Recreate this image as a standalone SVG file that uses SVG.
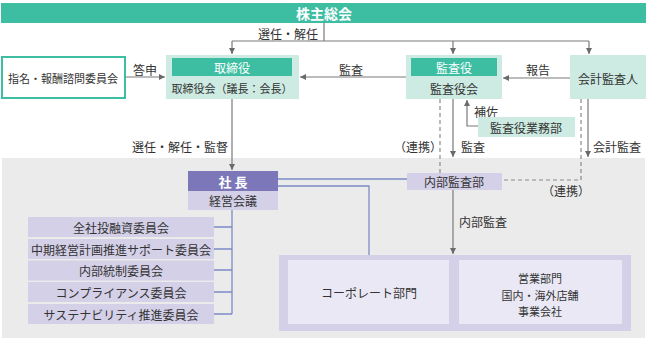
<svg xmlns="http://www.w3.org/2000/svg" width="647" height="341" viewBox="0 0 647 341">
<style>
text{font-family:"Noto Sans CJK JP","Noto Sans",sans-serif;font-size:12px;fill:#333;text-anchor:middle;dominant-baseline:central}
.w{fill:#fff;font-weight:bold}
.teal{fill:#3dbea3}
.lteal{fill:#cdebe2}
.pur{fill:#7c77b9}
.lpur{fill:#d3d0e8}
.inner{fill:#e9e8f4}
.gl{stroke:#7a7a7a;stroke-width:1.2;fill:none}
.dl{stroke:#8a8a8a;stroke-width:1.2;fill:none;stroke-dasharray:4 3}
.bl{stroke:#7d8bc6;stroke-width:1.3;fill:none}
.sm{font-size:11px}
</style>
<defs>
<marker id="ah" viewBox="0 0 10 10" refX="10" refY="5" markerWidth="6" markerHeight="6" orient="auto" markerUnits="userSpaceOnUse">
<path d="M0,0 L10,5 L0,10 z" fill="#6a6a6a"/>
</marker>
</defs>
<rect x="2" y="158" width="643" height="180" fill="#ebebeb"/>

<g id="shareholders">
<rect x="1" y="3" width="645" height="20" class="teal"/>
<text x="324" y="13" class="w" style="font-size:14px">株主総会</text>
</g>

<g id="connectors">
<path class="gl" d="M324,23 V41"/>
<path class="gl" d="M232,41 H589"/>
<path class="gl" d="M232,41 V54" marker-end="url(#ah)"/>
<path class="gl" d="M453,41 V54" marker-end="url(#ah)"/>
<path class="gl" d="M589,41 V54" marker-end="url(#ah)"/>
<path class="gl" d="M126,77 H165" marker-end="url(#ah)"/>
<path class="gl" d="M406,77 H300" marker-end="url(#ah)"/>
<path class="gl" d="M570,78 H503" marker-end="url(#ah)"/>
<path class="gl" d="M232,99 V170" marker-end="url(#ah)"/>
<path class="gl" d="M478,126 H467 V100" marker-end="url(#ah)"/>
<path class="gl" d="M453,99 V157" marker-end="url(#ah)"/>
<path class="gl" d="M588,99 V157" marker-end="url(#ah)"/>
<path class="dl" d="M440,99 V173"/>
<path class="dl" d="M581,99 V180 H502"/>
<path class="gl" d="M453,190 V254" marker-end="url(#ah)"/>
<path class="bl" d="M278,179 H407"/>
<path class="bl" d="M278,186 H369 V255"/>
<path class="bl" d="M232,210 V314"/>
<path class="bl" d="M214,227 H232 M214,249 H232 M214,270 H232 M214,292 H232 M214,314 H232"/>
<text x="318" y="33" style="text-anchor:end">選任・解任</text>
<text x="145" y="69">答申</text>
<text x="351" y="69">監査</text>
<text x="538" y="69">報告</text>
<text x="228" y="146" style="text-anchor:end">選任・解任・監督</text>
<text x="486" y="111">補佐</text>
<text x="418" y="146">（連携）</text>
<text x="473" y="146">監査</text>
<text x="617" y="146">会計監査</text>
<text x="566" y="190">（連携）</text>
<text x="483" y="221">内部監査</text>
</g>

<g id="nomination">
<rect x="2" y="57" width="123" height="41" fill="#fff" stroke="#3dbea3" stroke-width="2"/>
<text x="63" y="78" class="sm">指名・報酬諮問委員会</text>
</g>

<g id="board">
<rect x="166" y="55" width="133" height="44" class="lteal"/>
<rect x="172" y="58" width="120" height="18" class="teal"/>
<text x="232" y="67" class="w" style="font-weight:normal">取締役</text>
<text x="232" y="88" class="sm">取締役会（議長：会長）</text>
</g>

<g id="auditors">
<rect x="406" y="55" width="96" height="44" class="lteal"/>
<rect x="411" y="58" width="86" height="18" class="teal"/>
<text x="454" y="67" class="w" style="font-weight:normal">監査役</text>
<text x="454" y="88">監査役会</text>
</g>

<g id="accounting-auditor">
<rect x="570" y="55" width="76" height="44" class="lteal"/>
<text x="608" y="78">会計監査人</text>
</g>

<g id="audit-office">
<rect x="478" y="117" width="97" height="20" class="lteal"/>
<text x="526" y="127">監査役業務部</text>
</g>

<g id="president">
<rect x="188" y="171" width="90" height="20" class="pur"/>
<rect x="188" y="191" width="90" height="19" class="lpur"/>
<text x="233" y="181" class="w" style="font-size:13px">社 長</text>
<text x="233" y="200.5">経営会議</text>
</g>

<g id="internal-audit">
<rect x="407" y="173" width="95" height="17" class="lpur"/>
<text x="454" y="181.5">内部監査部</text>
</g>

<g id="committees">
<rect x="28" y="217" width="186" height="20" class="lpur"/>
<text x="121" y="227">全社投融資委員会</text>
<rect x="28" y="239" width="186" height="20" class="lpur"/>
<text x="121" y="249">中期経営計画推進サポート委員会</text>
<rect x="28" y="260.5" width="186" height="20" class="lpur"/>
<text x="121" y="270.5">内部統制委員会</text>
<rect x="28" y="282" width="186" height="20" class="lpur"/>
<text x="121" y="292">コンプライアンス委員会</text>
<rect x="28" y="304" width="186" height="20" class="lpur"/>
<text x="121" y="314">サステナビリティ推進委員会</text>
</g>

<g id="divisions">
<rect x="279" y="255" width="352" height="76" class="lpur"/>
<rect x="288" y="260" width="161" height="64" class="inner"/>
<rect x="459" y="260" width="163" height="64" class="inner"/>
<text x="369" y="292">コーポレート部門</text>
<text x="540" y="278" class="sm">営業部門</text>
<text x="540" y="294.5" class="sm">国内・海外店舗</text>
<text x="540" y="311" class="sm">事業会社</text>
</g>
</svg>
